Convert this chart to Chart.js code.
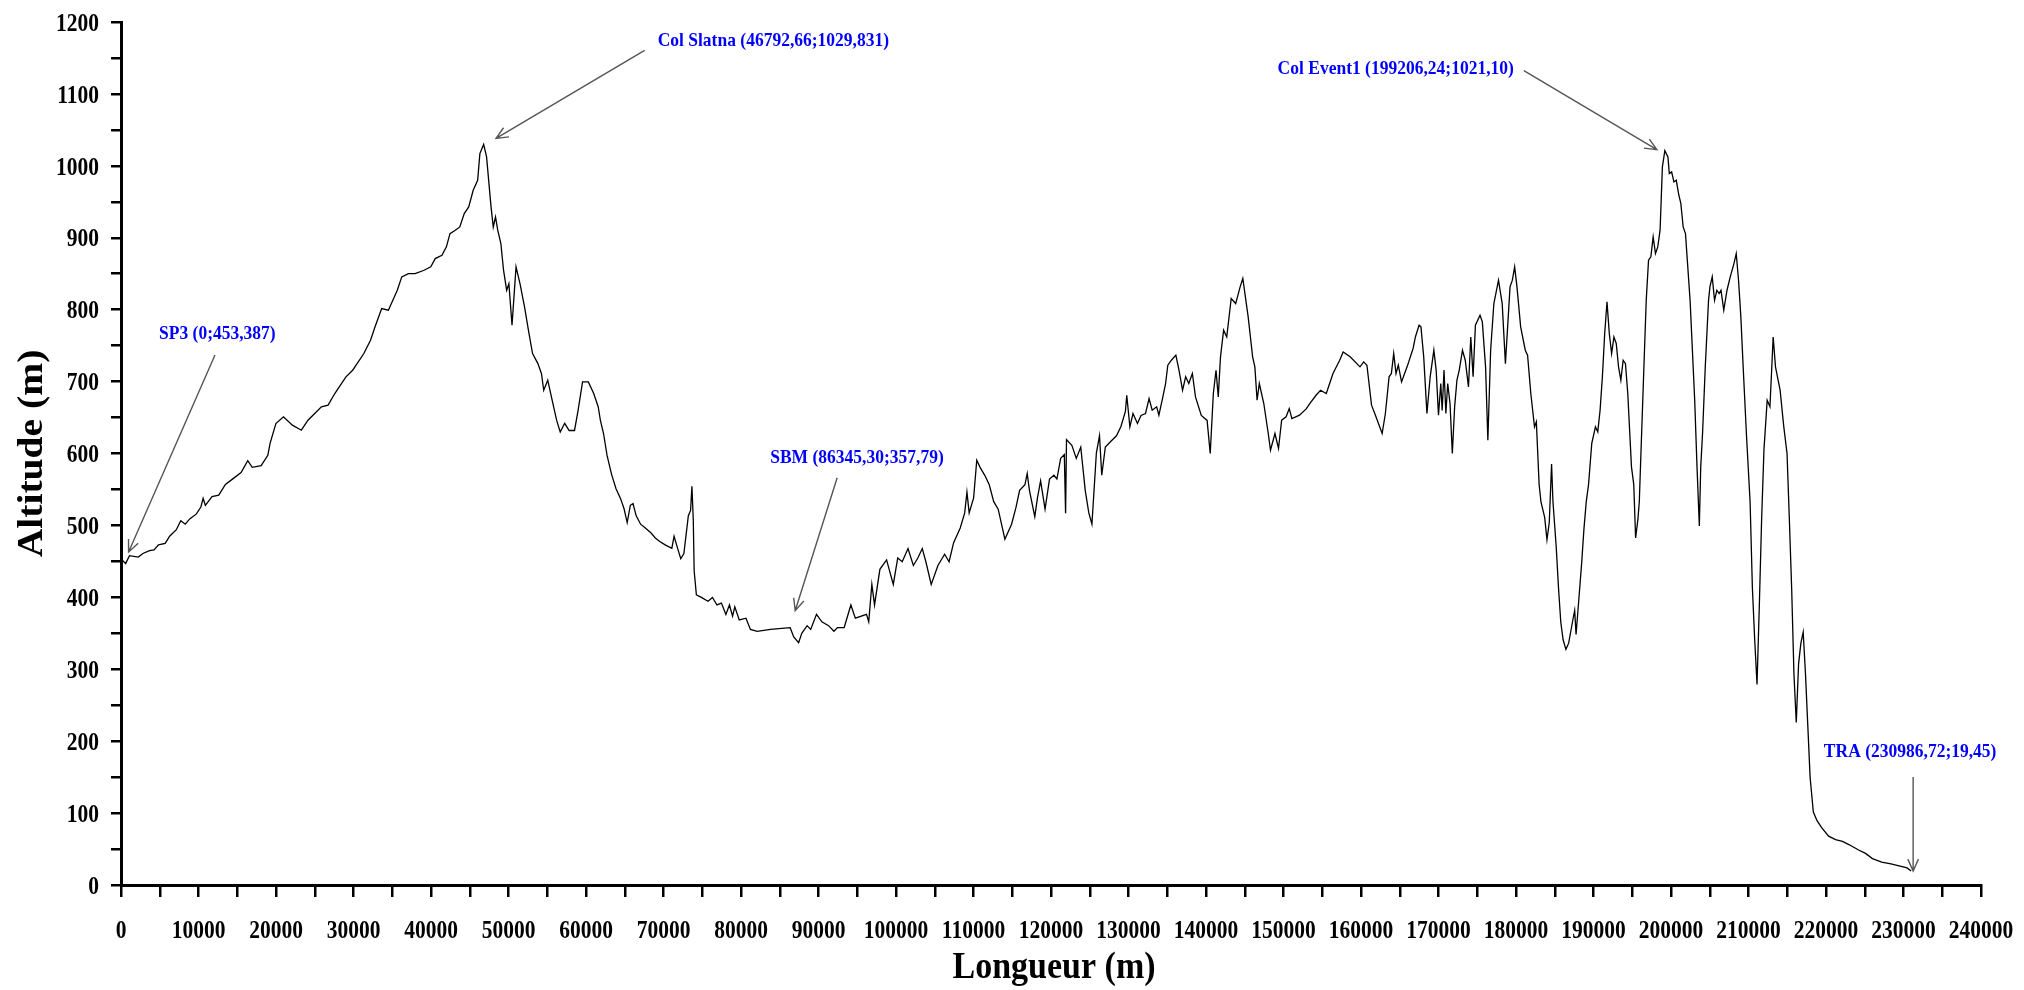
<!DOCTYPE html>
<html>
<head>
<meta charset="utf-8">
<script src="https://cdn.jsdelivr.net/npm/chart.js@4.4.1/dist/chart.umd.min.js"></script>
<style>
  html, body { margin: 0; padding: 0; background: #fff; }
  #wrap { width: 2024px; height: 990px; position: relative; }
</style>
</head>
<body>
<div id="wrap"><canvas id="profile"></canvas></div>
<script>
// Longitudinal profile: distance along the route (m) and altitude (m)
const distance = [
  0, 600, 1090, 2243, 2819, 3683, 4259, 4835, 5699, 6275, 7139, 7715, 8291, 8867, 9731,
  10307, 10595, 10883, 11747, 12611, 13475, 14339, 15491, 16355, 16931, 18083, 18947,
  19235, 19984, 20963, 22115, 23267, 24131, 24995, 25859, 26723, 27587, 28163, 29027,
  29891, 30467, 31331, 32195, 32771, 33635, 34499, 35075, 35651, 36227, 37091, 37955,
  39107, 39971, 40547, 41411, 41987, 42448, 43139, 43715, 44291, 44867, 45443, 46019,
  46307, 46792.66, 47171, 47747, 48035, 48323, 48611, 49014, 49360, 49763, 50051, 50454,
  50973, 51491, 52067, 52643, 53104, 53795, 54256, 54544, 55062, 55638, 56214, 56675,
  57251, 57827, 58518, 58979, 59555, 60304, 60995, 61571, 61859, 62262, 62723, 63299,
  63875, 64451, 64912, 65315, 65718, 66064, 66467, 67043, 67619, 68368, 68944, 69520,
  70211, 71075, 71363, 71824, 72227, 72630, 73206, 73494, 73667, 73840, 73955, 74243,
  74881, 75745, 76321, 76897, 77473, 78049, 78510, 78913, 79201, 79777, 80641, 81217,
  82081, 83809, 86345.30, 86804, 87437, 87841, 88529, 88993, 89742, 90433, 91297, 91988,
  92449, 93313, 94177, 94753, 96193, 96481, 96884, 97230, 97921, 98785, 99649, 100225,
  100801, 101550, 102241, 102817, 103393, 103853, 104545, 105409, 106273, 106849, 107425,
  108289, 108865, 109153, 109441, 110017, 110420, 110881, 111457, 112033, 112609, 113185,
  114049, 114913, 115489, 115950, 116641, 116929, 117217, 117908, 118253, 118657, 119233,
  119809, 120385, 120760, 121249, 121718, 121883, 122000, 122689, 123265, 123841, 124417,
  124878, 125281, 125857, 126260, 126548, 127009, 127700, 128449, 129025, 129601, 129774,
  130177, 130580, 131156, 131617, 132193, 132654, 133057, 133633, 133921, 134385, 134785,
  135073, 135534, 136110, 136513, 136974, 137377, 137780, 138241, 138644, 139393, 140142,
  140545, 140948, 141294, 141582, 141870, 142273, 142676, 143252, 143828, 144404, 144750,
  145441, 146017, 146305, 146593, 146881, 147457, 148033, 148321, 148897, 149358, 149761,
  150337, 150740, 151086, 152065, 152929, 153390, 154199, 154777, 155521, 156385, 157249,
  157700, 158600, 159870, 160347, 160764, 161360, 161777, 162730, 163147, 163623, 163921,
  164219, 164517, 164815, 165231, 165946, 166720, 167018, 167495, 167734, 168091, 168508,
  168925, 169401, 169699, 169997, 170295, 170474, 170712, 170950, 171188, 171486, 171784,
  172082, 172380, 172678, 173095, 173452, 173869, 174166, 174464, 174762, 175358, 175656,
  176073, 176370, 176728, 177143, 177742, 178218, 178635, 179231, 179529, 179827, 180125,
  180602, 181197, 181494, 181911, 182388, 182626, 182983, 183221, 183698, 183996, 184293,
  184591, 184770, 185187, 185485, 185783, 186081, 186439, 186796, 187273, 187571, 187750,
  188048, 188465, 188763, 189061, 189359, 189776, 190252, 190550, 190848, 191146, 191444,
  191742, 192040, 192338, 192636, 192934, 193231, 193529, 193827, 194125, 194423, 194900,
  195196, 195434, 195732, 195910, 196089, 196506, 196804, 197102, 197400, 197697, 197995,
  198293, 198591, 198889, 199206.24, 199604, 199782, 200080, 200378, 200676, 200974, 201272,
  201570, 201867, 202165, 202463, 202761, 203059, 203357, 203655, 203834, 204071, 204423,
  204843, 205022, 205320, 205618, 205916, 206214, 206452, 206809, 207226, 207643, 208120,
  208418, 208715, 209013, 209311, 209728, 210205, 210503, 210801, 211099, 211397, 211695,
  211993, 212410, 212767, 213184, 213482, 214078, 214555, 214972, 215270, 215568, 215866,
  216164, 216462, 216760, 217057, 217355, 217653, 217951, 218368, 218845, 219440, 220334,
  221227, 222121, 223015, 224206, 225100, 225993, 227185, 228376, 229567, 230461, 230986.72
];

const altitude = [
  453.387, 447, 458, 456, 461, 465, 466, 473, 475, 485, 494, 506.5, 501.7, 509, 516,
  525.6, 537.6, 528, 540, 542, 557, 564, 573.5, 590, 580.7, 583, 597.5,
  614, 641.7, 651, 639.4, 632.4, 646.3, 655.6, 664.9, 667.2, 683.4, 692.7, 706.6,
  715.8, 725, 739, 757.5, 776, 801.6, 799.3, 813.1, 827, 845.6, 850.2, 850.2,
  854.8, 859.5, 871, 875.7, 887.3, 905.8, 910.5, 915, 933.6, 942.9, 966, 980,
  1017, 1029.831, 1012.4, 943, 915, 929, 910.5, 892, 855, 827, 836, 778.4,
  859.5, 836, 804, 767, 739, 725, 711, 688, 702, 674, 646, 630,
  642, 632, 632, 660, 699.6, 699.6, 683.4, 665, 646, 627.8, 597, 571,
  551, 537.6, 523.2, 504, 528, 530.4, 513.6, 501.7, 496.9, 489.7, 482.5, 477.7,
  472.9, 468.1, 484.9, 468, 453.7, 461, 513.6, 520.8, 554.4, 508.8, 437, 403.4,
  399.9, 394.6, 399.9, 389.4, 392, 376.3, 389.4, 373.7, 386.8, 368.5, 371, 355.4,
  352.8, 355.4, 357.79, 345, 337, 350, 360.6, 355.4, 376.3, 365.9, 360.6, 352.8,
  358, 358, 389.4, 371, 376.3, 365.9, 418.1, 389.4, 439, 452, 418, 454.7,
  449.5, 467.8, 444.3, 454.7, 467.8, 449.5, 418, 444.3, 460, 449.5, 475.6,
  496.5, 517.4, 546.2, 517.4, 538.3, 590.6, 580, 569.7, 556.6, 533, 522.6,
  480.8, 501.7, 525.3, 548.8, 556.6, 572.3, 548.8, 512.2, 538.3, 561.9, 522.6,
  564.5, 569.7, 564.5, 593.2, 598.4, 517, 619.3, 611.5, 593.2, 608.9, 548.8,
  517.4, 501.7, 601, 624.6, 569.7, 608.9, 616.7, 624.6, 637.6, 658.5, 681,
  637, 655.6, 641.7, 653, 655.6, 676.4, 660.2, 664.9, 653.3, 676.4, 697.3,
  722.8, 729.7, 736.7, 715.8, 688, 706.6, 697.3, 711.2, 678.7, 653, 646,
  600, 683.4, 715.8, 678.7, 734.4, 771.4, 762, 815.5, 808.5, 831.7, 843.3,
  790, 734.4, 720.5, 674, 697.3, 669.5, 627.8, 604.6, 627.8, 607, 646.3,
  651, 662.5, 648.6, 653.3, 662, 669.5, 681, 688, 683.4, 711.2, 729.7,
  741.3, 734.4, 720.5, 727.4, 722.8, 667.2, 655.6, 627.8, 655.6, 706.6, 711.2,
  739, 711.2, 722.8, 699.6, 720.5, 746, 762, 778.4, 776, 734.4, 655.6,
  706.6, 743.6, 716, 653.3, 697.3, 660, 716, 655.6, 697.3, 669.5, 600,
  664.9, 702, 716, 743.6, 729.7, 692.7, 762, 706.6, 778.4, 792.3, 783,
  720.5, 618.5, 743.6, 808.5, 841, 808.5, 725, 831.7, 841, 859.5, 831.7,
  776, 743.6, 736.7, 683.4, 637, 644, 556.8, 532.8, 511.2, 480, 504,
  585.5, 532.8, 470.5, 413, 365, 341, 327.7, 336.3, 365, 381.8, 348.3,
  389, 446.5, 494.5, 532.8, 556.8, 614, 637, 630, 660, 706.6, 766.8,
  810.8, 766.8, 739, 762, 753, 720.5, 702, 729.7, 725, 683.4, 581.4,
  556.8, 482.5, 508.8, 532.8, 590.3, 720.5, 813, 868.8, 873.4, 901.2, 878,
  887.3, 910.5, 998.5, 1021.10, 1012.4, 989.2, 991.5, 977.6, 980, 961.4, 947.5,
  915, 905.8, 859.5, 813, 743.6, 674, 581.4, 499.3, 580.7, 627.8, 720.5,
  813, 831.7, 845.6, 813, 827, 822.4, 827, 799.3, 827, 845.6, 864,
  878, 841, 790, 720.5, 627.8, 532.8, 413, 341, 278.8, 389, 508.8,
  604.7, 674, 665, 762, 720.5, 688, 637, 600, 508.8, 413, 293,
  226, 307.5, 336.3, 351.6, 293, 221.3, 149.4, 101.4, 89.5, 79.9, 67.9,
  63, 60.7, 55.9, 48.7, 43.9, 36.7, 31.9, 29.5, 26.2, 23.8, 19.45
];

// Named stations along the profile
const stationNames = ['SP3', 'Col Slatna', 'SBM', 'Col Event1', 'TRA'];
const stationDistance = [0, 46792.66, 86345.30, 199206.24, 230986.72];
const stationAltitude = [453.387, 1029.831, 357.79, 1021.10, 19.45];
const stationDistanceDecimals = [0, 2, 2, 2, 2];
const stationAltitudeDecimals = [3, 3, 2, 2, 2];

// Axis ranges and steps
const xMin = 0, xMax = 240000, xMinorStep = 5000, xLabelStep = 10000;
const yMin = 0, yMax = 1200, yMinorStep = 50, yLabelStep = 100;
const xTitle = 'Longueur (m)';
const yTitle = 'Altitude (m)';

// Callout placement relative to each station (pixels): arrow tip, arrow tail, label anchor
const calloutLayout = [
  { tip: [7.6, -7],  tail: [94, -204],  label: [38, -226],  align: 'left' },
  { tip: [12.4, -6], tail: [161, -94],  label: [174, -105], align: 'left' },
  { tip: [5, -17],   tail: [47, -150],  label: [-20, -171], align: 'left' },
  { tip: [-8, -1],   tail: [-141, -80], label: [-151, -83], align: 'right' },
  { tip: [2, 0],     tail: [2, -94],    label: [-1, -121],  align: 'center' }
];

const FONT = '"Liberation Serif", "Times New Roman", Times, serif';
const fmt = (v, d) => v.toFixed(d).replace('.', ',');

// Draws bold serif text, stretched along the vertical direction of the page
function drawText(ctx, txt, x, y, size, stretch, align, color, vertical) {
  ctx.save();
  ctx.translate(x, y);
  if (vertical) {
    ctx.rotate(-Math.PI / 2);
    ctx.scale(stretch, 1);
  } else {
    ctx.scale(1, stretch);
  }
  ctx.font = 'bold ' + size + 'px ' + FONT;
  ctx.fillStyle = color;
  ctx.textAlign = align;
  ctx.textBaseline = 'alphabetic';
  ctx.fillText(txt, 0, 0);
  ctx.restore();
}

function drawArrow(ctx, x0, y0, x1, y1) {
  const a = Math.atan2(y1 - y0, x1 - x0);
  const len = 13, spread = 0.42;
  ctx.beginPath();
  ctx.moveTo(x0, y0);
  ctx.lineTo(x1, y1);
  ctx.moveTo(x1 - len * Math.cos(a - spread), y1 - len * Math.sin(a - spread));
  ctx.lineTo(x1, y1);
  ctx.lineTo(x1 - len * Math.cos(a + spread), y1 - len * Math.sin(a + spread));
  ctx.stroke();
}

const labelsPlugin = {
  id: 'profileLabels',
  afterDraw(chart) {
    const { ctx, chartArea, scales: { x, y } } = chart;
    const tickSize = 21.5, tickStretch = 1.2;
    const tickHalf = 0.676 * tickSize * tickStretch / 2;

    // y tick labels
    y.ticks.forEach(t => {
      if (t.value % yLabelStep !== 0) return;
      const py = y.getPixelForValue(t.value);
      drawText(ctx, String(t.value), chartArea.left - 22, py + tickHalf, tickSize, tickStretch, 'right', '#000');
    });
    // x tick labels
    x.ticks.forEach(t => {
      if (t.value % xLabelStep !== 0) return;
      const px = x.getPixelForValue(t.value);
      drawText(ctx, String(t.value), px, chartArea.bottom + 44 + tickHalf, tickSize, tickStretch, 'center', '#000');
    });

    // axis titles
    drawText(ctx, xTitle, (chartArea.left + chartArea.right) / 2 + 3, chartArea.bottom + 93, 34, 1.12, 'center', '#000');
    drawText(ctx, yTitle, 42, (chartArea.top + chartArea.bottom) / 2, 35, 1.13, 'center', '#000', true);

    // station callouts
    ctx.save();
    ctx.strokeStyle = '#555';
    ctx.lineWidth = 1.4;
    stationNames.forEach((name, i) => {
      const px = x.getPixelForValue(stationDistance[i]);
      const py = y.getPixelForValue(stationAltitude[i]);
      const L = calloutLayout[i];
      drawArrow(ctx, px + L.tail[0], py + L.tail[1], px + L.tip[0], py + L.tip[1]);
      const txt = name + ' (' + fmt(stationDistance[i], stationDistanceDecimals[i]) + ';' +
                  fmt(stationAltitude[i], stationAltitudeDecimals[i]) + ')';
      const size = 17.5, stretch = 1.1;
      drawText(ctx, txt, px + L.label[0], py + L.label[1] + 0.34 * size * stretch, size, stretch, L.align, '#0000ff');
    });
    ctx.restore();
  }
};

const points = distance.map((d, i) => ({ x: d, y: altitude[i] }));

new Chart(document.getElementById('profile'), {
  type: 'line',
  data: {
    datasets: [{
      data: points,
      borderColor: '#000',
      borderWidth: 1.3,
      pointRadius: 0,
      tension: 0,
      fill: false
    }]
  },
  options: {
    responsive: true,
    maintainAspectRatio: false,
    devicePixelRatio: 1,
    animation: false,
    events: [],
    layout: { padding: { top: 22, right: 43, left: 0, bottom: 0 } },
    plugins: { legend: { display: false }, tooltip: { enabled: false } },
    scales: {
      x: {
        type: 'linear',
        min: xMin, max: xMax,
        ticks: { display: false, stepSize: xMinorStep },
        grid: { drawOnChartArea: false, drawTicks: true, tickLength: 12, lineWidth: 2.5, color: '#000' },
        border: { display: true, color: '#000', width: 3 },
        afterFit(scale) { scale.height = 105; }
      },
      y: {
        type: 'linear',
        min: yMin, max: yMax,
        ticks: { display: false, stepSize: yMinorStep },
        grid: { drawOnChartArea: false, drawTicks: true, tickLength: 10, lineWidth: 2.5, color: '#000' },
        border: { display: true, color: '#000', width: 3 },
        afterFit(scale) { scale.width = 121; }
      }
    }
  },
  plugins: [labelsPlugin]
});
</script>
</body>
</html>
